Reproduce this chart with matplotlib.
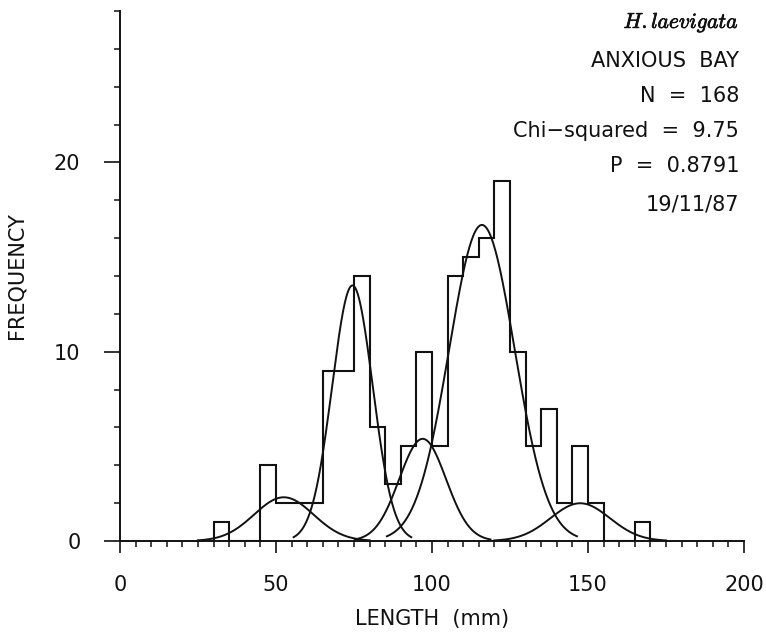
import numpy as np
import matplotlib
matplotlib.use("Agg")
import matplotlib.pyplot as plt
import matplotlib.patheffects as pe
from matplotlib.ticker import MultipleLocator

# Length-frequency data: 5 mm size classes
bin_edges = np.arange(30, 175, 5)
counts = [1, 0, 0, 4, 2, 2, 2, 9, 9, 14, 6, 3, 5, 10,
          5, 14, 15, 16, 19, 10, 5, 7, 2, 5, 2, 0, 0, 1]

# Fitted normal components (mean, s.d., number of animals)
comp_means = [52.5, 74.5, 97.0, 116.0, 147.5]
comp_sds = [9.5, 6.5, 7.5, 10.5, 9.5]
comp_n = [11.0, 44.0, 20.3, 87.9, 9.5]

x_ticks = [0, 50, 100, 150, 200]
y_ticks = [0, 10, 20]

info_lines = ["ANXIOUS  BAY", "N  =  168", "Chi\u2212squared  =  9.75",
              "P  =  0.8791", "19/11/87"]
species = r"$H.laevigata$"

plt.rcParams["font.family"] = ["DejaVu Sans"]
plt.rcParams["mathtext.fontset"] = "cm"
ink = "#111111"

fig = plt.figure(figsize=(7.66, 6.34), dpi=100)
W, H = 766, 634
ax = fig.add_axes([120 / W, 1 - 541 / H, (744 - 120) / W, (541 - 11) / H])

bin_w = bin_edges[1] - bin_edges[0]
ax.stairs(counts, bin_edges, color=ink, lw=1.5)

for m, s, n in zip(comp_means, comp_sds, comp_n):
    xs = np.linspace(m - 2.9 * s, m + 2.9 * s, 300)
    ys = n * bin_w / (s * np.sqrt(2 * np.pi)) * np.exp(-0.5 * ((xs - m) / s) ** 2)
    ax.plot(xs, ys, color=ink, lw=1.4)

ax.set_xlim(0, 200)
ax.set_ylim(0, 28)
for side in ("top", "right"):
    ax.spines[side].set_visible(False)
for side in ("left", "bottom"):
    ax.spines[side].set_linewidth(1.4)
    ax.spines[side].set_color(ink)

ax.set_xticks(x_ticks)
ax.set_yticks(y_ticks)
ax.xaxis.set_minor_locator(MultipleLocator(5))
ax.yaxis.set_minor_locator(MultipleLocator(2))
ax.tick_params(axis="x", which="major", direction="out", length=8.5, width=1.2,
               pad=16, labelsize=15, colors=ink)
ax.tick_params(axis="x", which="minor", direction="out", length=4.5, width=1.1,
               colors=ink)
ax.tick_params(axis="y", which="major", direction="out", length=11.5, width=1.2,
               pad=17, labelsize=15, colors=ink)
ax.tick_params(axis="y", which="minor", direction="out", length=4.5, width=1.1,
               colors=ink)

ax.set_xlabel("LENGTH  (mm)", fontsize=15, labelpad=10, color=ink)
ax.set_ylabel("FREQUENCY", fontsize=15, labelpad=20, color=ink)

x_right = 739 / W
fig.text(x_right, 1 - 22 / H, species, ha="right", va="center", fontsize=15.5,
         color=ink,
         path_effects=[pe.withStroke(linewidth=0.5, foreground=ink)])
for y_px, line in zip([61, 96, 131, 166, 204], info_lines):
    fig.text(x_right, 1 - y_px / H, line, ha="right", va="center",
             fontsize=15, color=ink)

fig.savefig("out.png", dpi=100)
